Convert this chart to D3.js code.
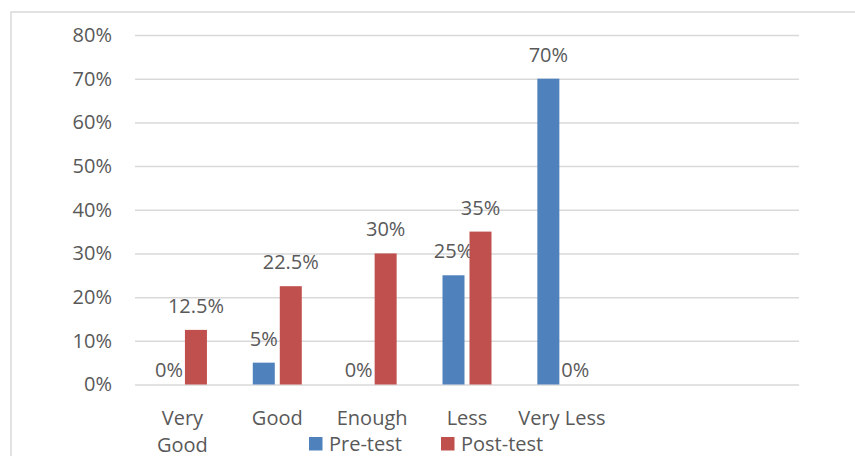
<!DOCTYPE html>
<html>
<head>
<meta charset="utf-8">
<title>Pre-test vs Post-test</title>
<script src="https://d3js.org/d3.v7.min.js"></script>
<style>
  body { margin: 0; background: #fff; }
  text { font-family: "Open Sans", sans-serif; fill: #595959; }
</style>
</head>
<body>
<svg width="855" height="456"></svg>
<script>
// data
const categories = ["Very Good", "Good", "Enough", "Less", "Very Less"];
const preTest = [0, 5, 0, 25, 70];
const postTest = [12.5, 22.5, 30, 35, 0];
const seriesNames = ["Pre-test", "Post-test"];
const yTicks = [0, 10, 20, 30, 40, 50, 60, 70, 80];
const slotCount = 7; // the source sheet had two empty rows after "Very Less"

const colors = ["#4f81bd", "#c0504d"];
const svg = d3.select("svg");

// chart border (right and bottom edges fall outside the picture)
svg.append("rect")
    .attr("x", 11).attr("y", 12)
    .attr("width", 900).attr("height", 500)
    .attr("fill", "none")
    .attr("stroke", "#d9d9d9")
    .attr("stroke-width", 1.5);

const plot = { left: 135, right: 799, top: 35, bottom: 384.5 };

const x = d3.scaleBand()
    .domain(d3.range(slotCount))
    .range([plot.left, plot.right]);

const y = d3.scaleLinear()
    .domain([0, 80])
    .range([plot.bottom, plot.top]);

const barW = 22, barGap = 5;
const offset = d3.scaleOrdinal()
    .domain([0, 1])
    .range([-(barW + barGap / 2), barGap / 2]);

// gridlines + y labels
const yAxis = d3.axisLeft(y)
    .tickValues(yTicks)
    .tickFormat(d => d + "%")
    .tickSize(-(plot.right - plot.left))
    .tickPadding(23);

const gy = svg.append("g")
    .attr("transform", `translate(${plot.left},0)`)
    .call(yAxis);
gy.select(".domain").remove();
gy.selectAll(".tick line").attr("stroke", "#d9d9d9").attr("stroke-width", 1.5);
gy.selectAll(".tick text")
    .style("font-size", "20px")
    .style("font-family", "Open Sans, sans-serif")
    .attr("fill", "#595959");

const rows = categories.map((c, i) => ({ i, c, vals: [preTest[i], postTest[i]] }));

const groups = svg.append("g").selectAll("g")
    .data(rows)
    .join("g")
    .attr("transform", d => `translate(${x(d.i) + x.bandwidth() / 2},0)`);

const cells = groups.selectAll("g")
    .data(d => d.vals.map((v, s) => ({ v, s })))
    .join("g");

cells.append("rect")
    .attr("x", d => offset(d.s))
    .attr("y", d => y(d.v))
    .attr("width", barW)
    .attr("height", d => y(0) - y(d.v))
    .attr("fill", d => colors[d.s]);

cells.append("text")
    .attr("x", d => offset(d.s) + barW / 2)
    .attr("y", d => y(d.v) - (d.v > 0 ? 17 : 8))
    .attr("text-anchor", "middle")
    .style("font-size", "20px")
    .text(d => d.v + "%");

// category labels, wrapped when wider than a slot
const xLabels = svg.append("g").selectAll("text")
    .data(rows)
    .join("text")
    .attr("x", d => x(d.i) + x.bandwidth() / 2)
    .attr("y", 425)
    .attr("text-anchor", "middle")
    .style("font-size", "20px")
    .text(d => d.c);

xLabels.each(function (d) {
    const t = d3.select(this);
    if (this.getComputedTextLength() > x.step()) {
        const words = d.c.split(" ");
        t.text(null);
        words.forEach((w, k) => {
            t.append("tspan")
                .attr("x", x(d.i) + x.bandwidth() / 2)
                .attr("dy", k === 0 ? 0 : 27)
                .text(w);
        });
    }
});

// legend
const legendX = [309, 441];
const legend = svg.append("g").selectAll("g")
    .data(seriesNames)
    .join("g")
    .attr("transform", (d, i) => `translate(${legendX[i]},437)`);

legend.append("rect")
    .attr("width", 13.5).attr("height", 13.5)
    .attr("fill", (d, i) => colors[i]);

legend.append("text")
    .attr("x", 20).attr("y", 14)
    .style("font-size", "20px")
    .text(d => d);
</script>
</body>
</html>
